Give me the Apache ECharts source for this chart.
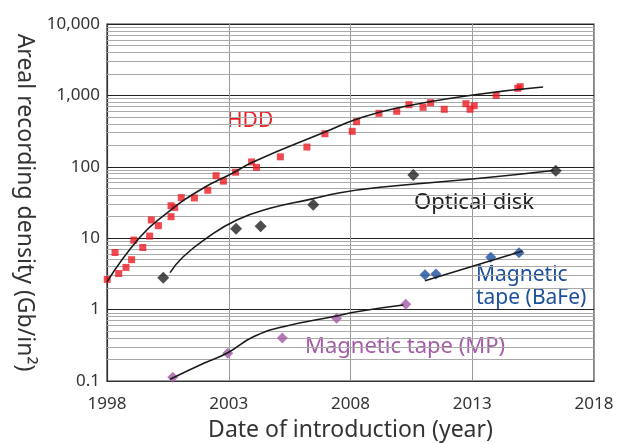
<!DOCTYPE html>
<html>
<head>
<meta charset="UTF-8" />
<title>Areal recording density</title>
<script src="https://cdn.jsdelivr.net/npm/echarts@6/dist/echarts.min.js"></script>
<style>
  html, body { margin: 0; padding: 0; background: #fff; }
  #main { width: 618px; height: 444px; }
</style>
</head>
<body>
<div id="main"></div>
<script>
// x tick labels (years) and y range (decades)
var yearTicks = [1998, 2003, 2008, 2013, 2018];
var minorValues = [];   // 2..9 in each decade, for the thin grid lines
var decades = [0.1, 1, 10, 100, 1000];
decades.forEach(function (d) {
    for (var k = 2; k <= 9; k++) minorValues.push(+(d * k).toPrecision(3));
});

// HDD points
var hddYears = [1998.01, 1998.33, 1998.48, 1998.78, 1999.01, 1999.10, 1999.47, 1999.75, 1999.82, 2000.11,
                2000.63, 2000.63, 2000.78, 2001.05, 2001.59, 2002.14, 2002.48, 2002.78, 2003.28, 2003.94,
                2004.14, 2005.12, 2006.21, 2006.95, 2008.07, 2008.25, 2009.17, 2009.90, 2010.40, 2010.98,
                2011.29, 2011.85, 2012.74, 2012.91, 2013.08, 2013.98, 2014.87, 2014.97];
var hddDensity = [2.65, 6.3, 3.2, 3.9, 5.0, 9.4, 7.4, 10.7, 18, 15,
                  20, 28.5, 27, 37, 36.6, 47, 75, 63, 84, 117,
                  98, 138, 189, 291, 314, 428, 561, 599, 741, 681,
                  790, 639, 765, 639, 717, 1000, 1257, 1324];
// HDD trend curve
var hddFitYears = [1998.0, 1999.36, 2000.46, 2001.82, 2003.17, 2004.0, 2006.95, 2008.27, 2009.91, 2013.03, 2015.91];
var hddFitDensity = [2.44, 10.4, 22.5, 47.3, 81.8, 117, 307, 467, 667, 1014, 1312];

// Optical disk
var opticalYears = [2000.31, 2003.30, 2004.31, 2006.47, 2010.58, 2016.43];
var opticalDensity = [2.8, 13.6, 14.7, 29.5, 76.8, 88.2];
var opticalFitYears = [2000.59, 2001.13, 2002.09, 2003.33, 2004.69, 2006.34, 2007.57, 2009.21, 2013.32, 2016.33];
var opticalFitDensity = [3.29, 5.5, 10, 18, 26.2, 35, 43.4, 51.6, 69, 88.7];

// Magnetic tape (BaFe)
var bafeYears = [2011.06, 2011.51, 2013.76, 2014.92];
var bafeDensity = [3.08, 3.16, 5.4, 6.27];
var bafeFitYears = [2011.06, 2015.07];
var bafeFitDensity = [2.54, 6.62];

// Magnetic tape (MP)
var mpYears = [2000.70, 2002.96, 2005.20, 2007.43, 2010.27];
var mpDensity = [0.113, 0.244, 0.40, 0.755, 1.19];
var mpFitYears = [2000.59, 2001.82, 2002.96, 2004.01, 2005.24, 2007.43, 2008.25, 2010.17];
var mpFitDensity = [0.106, 0.168, 0.249, 0.417, 0.577, 0.813, 0.935, 1.16];

function pairs(xs, ys) {
    var out = [];
    for (var i = 0; i < xs.length; i++) out.push([xs[i], ys[i]]);
    return out;
}

var FONT = '"Noto Sans", sans-serif';
var red = '#ec1c24', blue = '#1c4f9e', purple = '#a35aa6', dark = '#222';

var chart = echarts.init(document.getElementById('main'));

function pointSeries(data, symbol, size, color) {
    return {
        type: 'scatter', data: data, symbol: symbol, symbolSize: size,
        itemStyle: { color: color }, z: 4, silent: true
    };
}
function fitSeries(data, smooth) {
    return {
        type: 'line', data: data, smooth: smooth, showSymbol: false, symbol: 'none',
        lineStyle: { color: '#1a1a1a', width: 1.6 }, z: 5, silent: true
    };
}

var option = {
    animation: false,
    textStyle: { fontFamily: FONT },
    grid: {
        left: 107, right: 24, top: 24, bottom: 63,
        outerBoundsMode: 'none', containLabel: false,
        show: true, borderColor: '#333', borderWidth: 1.2, backgroundColor: 'transparent'
    },
    xAxis: {
        type: 'value', min: 1998, max: 2018, interval: 5,
        axisLine: { lineStyle: { color: '#333', width: 1.2 } },
        axisTick: { show: false },
        axisLabel: { color: '#333', fontSize: 17, margin: 15, fontFamily: FONT,
            formatter: function (v) { return yearTicks.indexOf(v) >= 0 ? String(v) : ''; } },
        splitLine: { show: true, lineStyle: { color: '#999', width: 1 } },
        name: 'Date of introduction (year)', nameLocation: 'middle', nameGap: 38,
        nameTextStyle: { fontSize: 23, color: '#333', fontFamily: FONT }
    },
    yAxis: {
        type: 'log', logBase: 10, min: 0.1, max: 10000,
        axisLine: { show: true, lineStyle: { color: '#333', width: 1.2 } },
        axisTick: { show: false },
        axisLabel: { color: '#333', fontSize: 17, margin: 7, fontFamily: FONT,
            formatter: function (v) { return v >= 1000 ? Number(v).toLocaleString('en-US') : String(v); } },
        splitLine: { show: true, lineStyle: { color: '#222', width: 1.2 } },
        name: 'Areal recording density (Gb/in\u00b2)', nameLocation: 'middle', nameRotate: -90, nameGap: 69,
        nameTextStyle: { fontSize: 23, color: '#333', fontFamily: FONT }
    },
    graphic: [
        { type: 'text', left: 227, top: 111, style: { text: 'HDD', fill: red, fontSize: 21, fontFamily: FONT } },
        { type: 'text', left: 414, top: 192, style: { text: 'Optical disk', fill: '#222', fontSize: 22, fontFamily: FONT } },
        { type: 'text', left: 476, top: 264, style: { text: 'Magnetic\ntape (BaFe)', fill: blue, fontSize: 21, lineHeight: 23, fontFamily: FONT } },
        { type: 'text', left: 305, top: 336, style: { text: 'Magnetic tape (MP)', fill: purple, fontSize: 22, fontFamily: FONT } }
    ],
    series: [
        {
            // thin grid lines at 2..9 of every decade
            type: 'line', data: [], silent: true, z: 1,
            markLine: {
                silent: true, z: 1, symbol: ['none', 'none'], label: { show: false },
                lineStyle: { color: '#aaa', width: 1, type: 'solid' },
                data: minorValues.map(function (v) { return { yAxis: v }; })
            }
        },
        pointSeries(pairs(hddYears, hddDensity), 'rect', 7, red),
        fitSeries(pairs(hddFitYears, hddFitDensity), 0.5),
        pointSeries(pairs(opticalYears, opticalDensity), 'diamond', 12, dark),
        fitSeries(pairs(opticalFitYears, opticalFitDensity), 0.5),
        pointSeries(pairs(bafeYears, bafeDensity), 'diamond', 11, blue),
        fitSeries(pairs(bafeFitYears, bafeFitDensity), false),
        pointSeries(pairs(mpYears, mpDensity), 'diamond', 11, purple),
        fitSeries(pairs(mpFitYears, mpFitDensity), 0.5)
    ]
};
chart.setOption(option);
</script>
</body>
</html>
